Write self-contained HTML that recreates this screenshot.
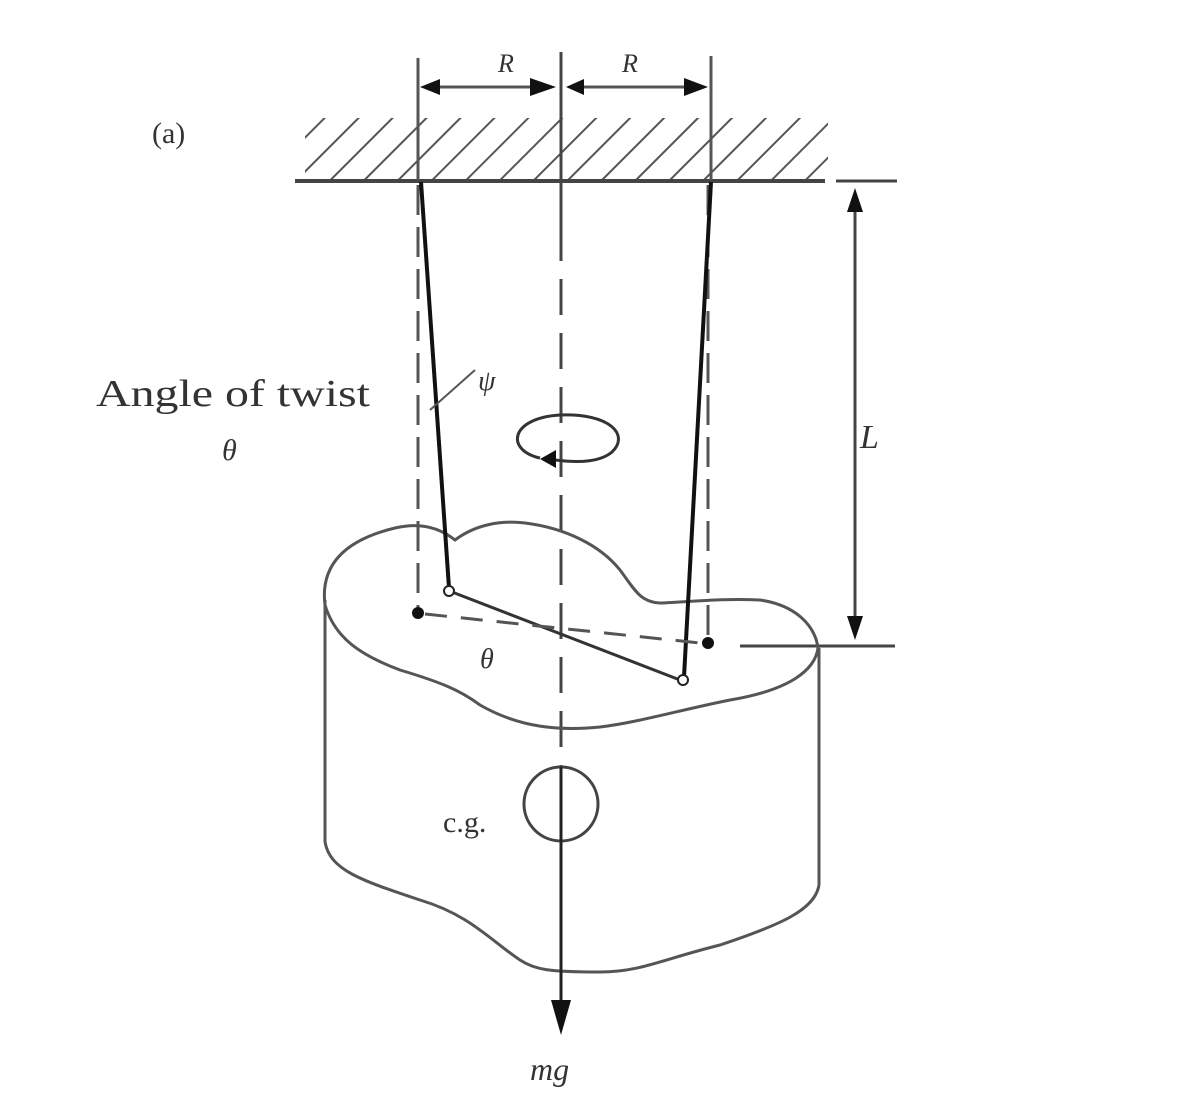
<!DOCTYPE html>
<html><head><meta charset="utf-8"><style>html,body{margin:0;padding:0;background:#fff}svg{display:block}</style></head>
<body>
<svg width="1195" height="1112" viewBox="0 0 1195 1112" xmlns="http://www.w3.org/2000/svg">
<defs>
<pattern id="h" width="24" height="24" patternUnits="userSpaceOnUse" patternTransform="rotate(45)">
<line x1="0" y1="0" x2="0" y2="24" stroke="#555" stroke-width="4"/>
</pattern>
<clipPath id="hc"><polygon points="305,180 305,115 828,115 828,180"/></clipPath>
</defs>
<g stroke-linecap="butt" fill="none">
<rect x="300" y="118" width="528" height="62" fill="url(#h)" clip-path="url(#hc)" stroke="none"/>
<line x1="295" y1="181" x2="825" y2="181" stroke="#444" stroke-width="4"/>
<line x1="836" y1="181" x2="897" y2="181" stroke="#444" stroke-width="3"/>
<line x1="418" y1="58" x2="418" y2="180" stroke="#555" stroke-width="3"/>
<line x1="711" y1="56" x2="711" y2="180" stroke="#555" stroke-width="3"/>
<line x1="561" y1="52" x2="561" y2="225" stroke="#444" stroke-width="3"/>
<line x1="430" y1="87" x2="550" y2="87" stroke="#555" stroke-width="3"/>
<line x1="572" y1="87" x2="700" y2="87" stroke="#555" stroke-width="3"/>
<polygon points="420,87 440,79 440,95" fill="#111"/>
<polygon points="556,87 530,78 530,96" fill="#111"/>
<polygon points="566,87 584,79 584,95" fill="#111"/>
<polygon points="708,87 684,78 684,96" fill="#111"/>
<line x1="561" y1="225" x2="561" y2="1000" stroke="#444" stroke-width="3" stroke-dasharray="36,18"/>
<line x1="855" y1="195" x2="855" y2="630" stroke="#444" stroke-width="3"/>
<polygon points="855,188 847,212 863,212" fill="#111"/>
<polygon points="855,640 847,616 863,616" fill="#111"/>
<line x1="740" y1="646" x2="895" y2="646" stroke="#444" stroke-width="3"/>
<path d="M325,605 C320,565 345,540 395,528 C420,522 440,528 455,540 C475,525 500,520 525,523 C565,528 600,545 620,570 C635,590 640,602 660,603 C690,602 720,598 760,600 C795,605 815,625 818,648 C815,670 790,690 730,700 C680,710 640,722 600,727 C560,731 520,728 480,705 C460,690 440,682 400,670 C360,655 335,638 325,605 Z" stroke="#555" stroke-width="3"/>
<line x1="325" y1="600" x2="325" y2="842" stroke="#555" stroke-width="3"/>
<line x1="819" y1="648" x2="819" y2="885" stroke="#555" stroke-width="3"/>
<path d="M325,842 C330,870 360,880 420,900 C470,915 490,940 520,960 C535,970 550,972 600,972 C640,972 660,960 720,945 C780,925 815,910 819,885" stroke="#555" stroke-width="3"/>
<circle cx="561" cy="804" r="37" stroke="#444" stroke-width="3"/>
<line x1="561" y1="767" x2="561" y2="1005" stroke="#222" stroke-width="3"/>
<polygon points="561,1035 551,1000 571,1000" fill="#111"/>
<line x1="418" y1="185" x2="418" y2="610" stroke="#555" stroke-width="3" stroke-dasharray="30,12"/>
<line x1="708" y1="185" x2="708" y2="638" stroke="#555" stroke-width="3" stroke-dasharray="30,12"/>
<line x1="421" y1="182" x2="449" y2="588" stroke="#111" stroke-width="4"/>
<line x1="711" y1="182" x2="684" y2="677" stroke="#111" stroke-width="4"/>
<line x1="452" y1="592" x2="680" y2="680" stroke="#333" stroke-width="3"/>
<line x1="425" y1="614" x2="700" y2="643" stroke="#555" stroke-width="3" stroke-dasharray="22,14"/>
<circle cx="418" cy="613" r="6" fill="#111"/>
<circle cx="708" cy="643" r="6" fill="#111"/>
<circle cx="449" cy="591" r="5" fill="#fff" stroke="#222" stroke-width="2"/>
<circle cx="683" cy="680" r="5" fill="#fff" stroke="#222" stroke-width="2"/>
<path d="M540,458 C505,450 510,418 560,415 C610,413 630,435 612,452 C600,462 580,463 555,460" stroke="#333" stroke-width="3"/>
<polygon points="540,459 556,450 556,468" fill="#111"/>
<line x1="430" y1="410" x2="475" y2="370" stroke="#555" stroke-width="2"/>
</g>
<g font-family="Liberation Serif, serif" fill="#333">
<text x="152" y="143" font-size="30">(a)</text>
<text x="96" y="406" font-size="38" textLength="274" lengthAdjust="spacingAndGlyphs">Angle of twist</text>
<text x="222" y="460" font-size="30" font-style="italic">θ</text>
<text x="478" y="390" font-size="28" font-style="italic">ψ</text>
<text x="480" y="668" font-size="28" font-style="italic">θ</text>
<text x="498" y="72" font-size="26" font-style="italic">R</text>
<text x="622" y="72" font-size="26" font-style="italic">R</text>
<text x="860" y="448" font-size="34" font-style="italic">L</text>
<text x="443" y="832" font-size="30">c.g.</text>
<text x="530" y="1080" font-size="32" font-style="italic">mg</text>
</g>
</svg>
</body></html>
